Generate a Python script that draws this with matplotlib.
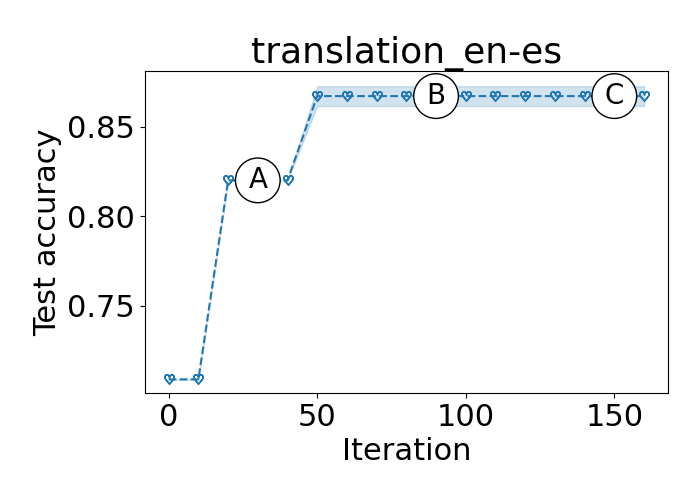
import numpy as np
import matplotlib
matplotlib.use('Agg')
import matplotlib.pyplot as plt

# данные
iterations = [0, 10, 20, 30, 40, 50, 60, 70, 80, 90, 100, 110, 120, 130, 140, 150, 160]
accuracy = [0.709, 0.709, 0.82, 0.82, 0.82, 0.867, 0.867, 0.867, 0.867, 0.867,
            0.867, 0.867, 0.867, 0.867, 0.867, 0.867, 0.867]
spread = [0, 0, 0, 0, 0, 0.0055, 0.0055, 0.0055, 0.0055, 0.0055,
          0.0055, 0.0055, 0.0055, 0.0055, 0.0055, 0.0055, 0.0055]

labels = ['A', 'B', 'C']
label_x = [30, 90, 150]

x = np.array(iterations)
y = np.array(accuracy)
s = np.array(spread)

fig = plt.figure(figsize=(7, 5), dpi=100)
ax = fig.add_axes([0.207, 0.214, 0.747, 0.644])

color = '#1f77b4'
ax.plot(x, y, '--', color=color, marker=r'$\heartsuit$', markersize=7, linewidth=1.5)
ax.fill_between(x, y - s, y + s, color=color, alpha=0.2, linewidth=1)

for lab, lx in zip(labels, label_x):
    ly = y[iterations.index(lx)]
    ax.text(lx, ly, lab, fontsize=20, ha='center', va='center', zorder=5,
            bbox=dict(boxstyle='circle,pad=0.3', fc='white', ec='black'))

ax.set_ylim(0.7014, 0.881)
ax.set_yticks([0.75, 0.80, 0.85])
ax.set_xticks([0, 50, 100, 150])
ax.tick_params(labelsize=22)
ax.set_xlabel('Iteration', fontsize=22)
ax.set_ylabel('Test accuracy', fontsize=22)
ax.set_title('translation_en-es', fontsize=26)

fig.savefig('out.png', dpi=100)
